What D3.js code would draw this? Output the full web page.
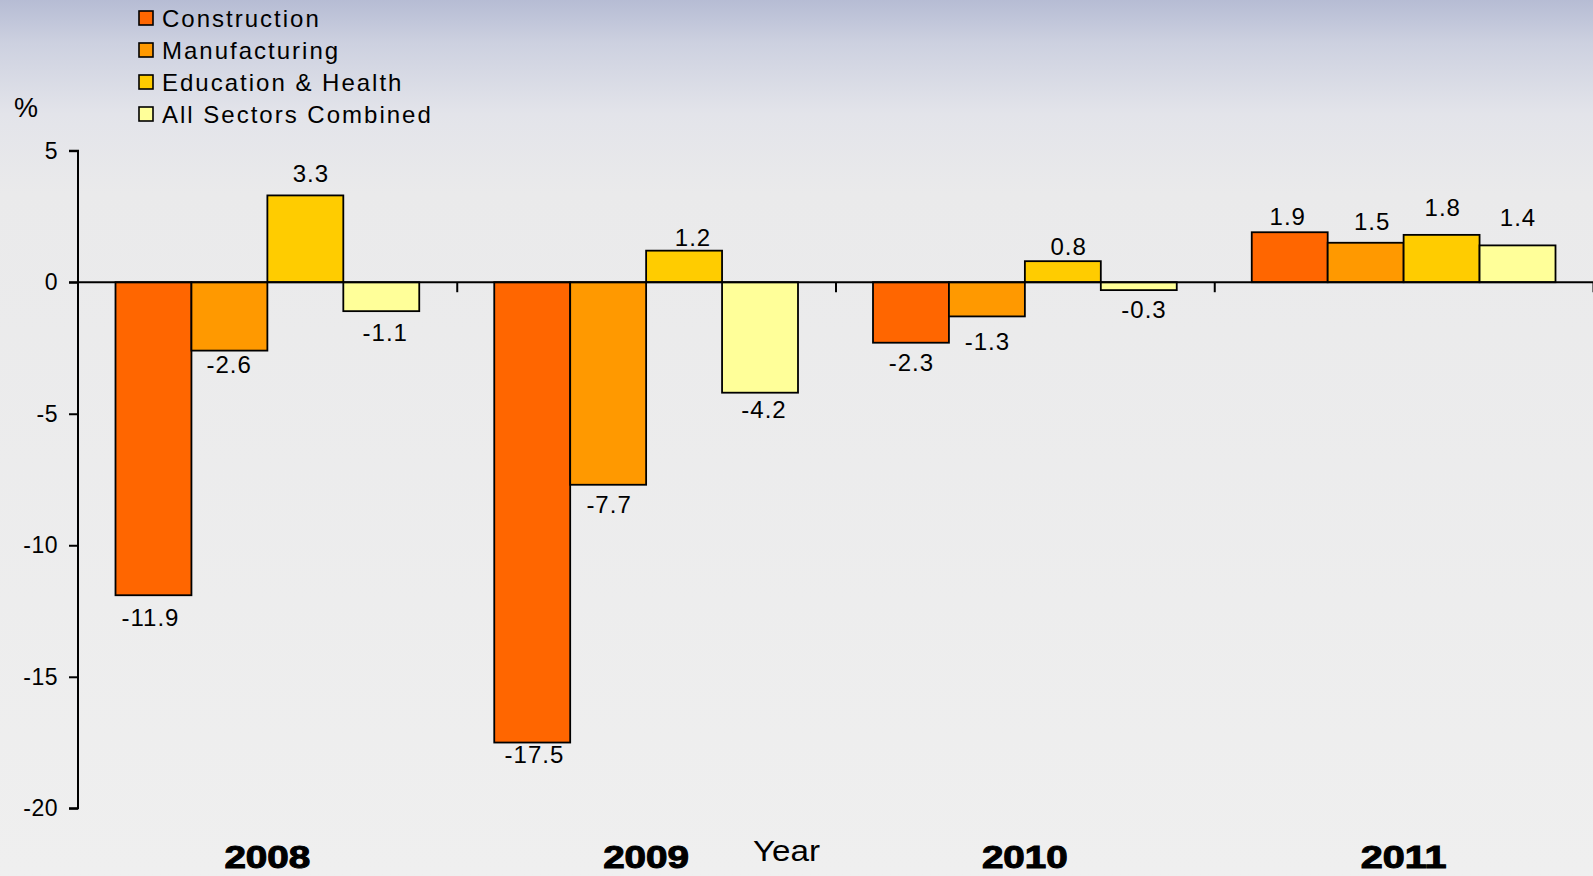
<!DOCTYPE html>
<html>
<head>
<meta charset="utf-8">
<script src="https://cdnjs.cloudflare.com/ajax/libs/d3/7.8.5/d3.min.js"></script>
<style>
  html, body { margin: 0; padding: 0; overflow: hidden; }
  svg { display: block; font-family: "Liberation Sans", Arial, sans-serif; }
</style>
</head>
<body>
<svg id="chart" width="1593" height="876"></svg>
<script>
const years = ["2008", "2009", "2010", "2011"];
const seriesNames = ["Construction", "Manufacturing", "Education & Health", "All Sectors Combined"];
const seriesColors = ["#FF6600", "#FF9900", "#FFCC00", "#FFFF99"];
const construction = [-11.9, -17.5, -2.3, 1.9];
const manufacturing = [-2.6, -7.7, -1.3, 1.5];
const educationHealth = [3.3, 1.2, 0.8, 1.8];
const allSectors = [-1.1, -4.2, -0.3, 1.4];
const yTicks = [5, 0, -5, -10, -15, -20];

const seriesValues = [construction, manufacturing, educationHealth, allSectors];

// hand-placed label nudges seen in the original (layout only) [dx, dy] per year, per series
const labelNudge = [
  [[-3.5, 3], [-0.8, -6], [5, -6], [3.5, 2]],
  [[1.7, -8], [0.4, 0], [8.4, 2], [3.5, -3]],
  [[0, 0], [0, 6], [5.3, 1.3], [4.7, 0]],
  [[-2.5, 0], [6, -6], [0.7, -12.3], [0, -12]]
];

const svg = d3.select("#chart");
const W = 1593, H = 876;

// background gradient
const defs = svg.append("defs");
const grad = defs.append("linearGradient").attr("id", "bg").attr("x1", 0).attr("y1", 0).attr("x2", 0).attr("y2", 1);
grad.append("stop").attr("offset", "0").attr("stop-color", "#b6bcd4");
grad.append("stop").attr("offset", "0.05").attr("stop-color", "#cdd1e0");
grad.append("stop").attr("offset", "0.13").attr("stop-color", "#e3e4ea");
grad.append("stop").attr("offset", "0.22").attr("stop-color", "#eaeaeb");
grad.append("stop").attr("offset", "1").attr("stop-color", "#efefef");
svg.append("rect").attr("width", W).attr("height", H).attr("fill", "url(#bg)");

const x0 = 78, x1 = 1593;
const y = d3.scaleLinear().domain([-20, 5]).range([808.3, 150.7]);
const xBand = d3.scaleBand().domain(years).range([x0, x1]).paddingInner(0).paddingOuter(0);
const groupPad = 37.5;
const inner = d3.scaleBand().domain(d3.range(4)).range([groupPad, xBand.bandwidth() - groupPad]);

// y axis
const yAxis = d3.axisLeft(y).tickValues(yTicks).tickSize(9).tickPadding(11).tickFormat(d => String(d));
const gy = svg.append("g").attr("transform", `translate(${x0},0)`).call(yAxis);
gy.select(".domain").attr("stroke", "#000").attr("stroke-width", 2).attr("d", `M-9,${y(5)}H0V${y(-20)}H-9`);
gy.selectAll(".tick line").attr("stroke", "#000").attr("stroke-width", 2);
gy.selectAll(".tick text").attr("font-size", 23).attr("fill", "#000")
  .attr("font-family", "Liberation Sans, Arial, sans-serif").attr("letter-spacing", "0.5px");

// bars
const data = [];
years.forEach((yr, i) => {
  seriesValues.forEach((vals, s) => data.push({ year: yr, i, s, v: vals[i] }));
});

const gBars = svg.append("g");
gBars.selectAll("rect").data(data).join("rect")
  .attr("x", d => xBand(d.year) + inner(d.s))
  .attr("width", inner.bandwidth())
  .attr("y", d => y(Math.max(0, d.v)))
  .attr("height", d => Math.abs(y(d.v) - y(0)))
  .attr("fill", d => seriesColors[d.s])
  .attr("stroke", "#000").attr("stroke-width", 1.8);

// zero line axis with ticks at band boundaries
const xAxis = d3.axisBottom(d3.scaleLinear().domain([0, 4]).range([x0, x1]))
  .tickValues([1, 2, 3, 4]).tickSize(10).tickFormat("");
const gx = svg.append("g").attr("transform", `translate(0,${y(0)})`).call(xAxis);
gx.select(".domain").attr("stroke", "#000").attr("stroke-width", 2).attr("d", `M${x0 - 9},0H${x1}`);
gx.selectAll(".tick line").attr("stroke", "#000").attr("stroke-width", 2);

// value labels
svg.append("g").selectAll("text").data(data).join("text")
  .attr("x", d => xBand(d.year) + inner(d.s) + inner.bandwidth() / 2 + 0.5 + labelNudge[d.i][d.s][0])
  .attr("y", d => (d.v >= 0 ? y(d.v) - 7 : y(d.v) + 28) + labelNudge[d.i][d.s][1])
  .attr("text-anchor", "middle")
  .attr("font-size", 24).attr("letter-spacing", "1px").attr("fill", "#000")
  .text(d => d.v.toFixed(1));

// year labels
svg.append("g").selectAll("text").data(years).join("text")
  .attr("x", d => xBand(d) + xBand.bandwidth() / 2 - 43)
  .attr("y", 868)
  .attr("font-size", 31).attr("font-weight", "bold").attr("fill", "#000")
  .attr("stroke", "#000").attr("stroke-width", 1)
  .attr("textLength", 86).attr("lengthAdjust", "spacingAndGlyphs")
  .text(d => d);

// axis titles
svg.append("text").attr("x", 753).attr("y", 861).attr("font-size", 30).attr("fill", "#000")
  .attr("textLength", 67).attr("lengthAdjust", "spacingAndGlyphs").text("Year");
svg.append("text").attr("x", 14).attr("y", 117).attr("font-size", 27).attr("fill", "#000").text("%");

// legend
const leg = svg.append("g");
const legRows = leg.selectAll("g").data(seriesNames).join("g")
  .attr("transform", (d, i) => `translate(139,${27 + i * 32})`);
legRows.append("rect").attr("x", 0).attr("y", -16).attr("width", 14).attr("height", 14)
  .attr("fill", (d, i) => seriesColors[i]).attr("stroke", "#000").attr("stroke-width", 1.6);
legRows.append("text").attr("x", 23).attr("y", 0).attr("font-size", 24).attr("letter-spacing", "2px")
  .attr("fill", "#000").text(d => d);
</script>
</body>
</html>
